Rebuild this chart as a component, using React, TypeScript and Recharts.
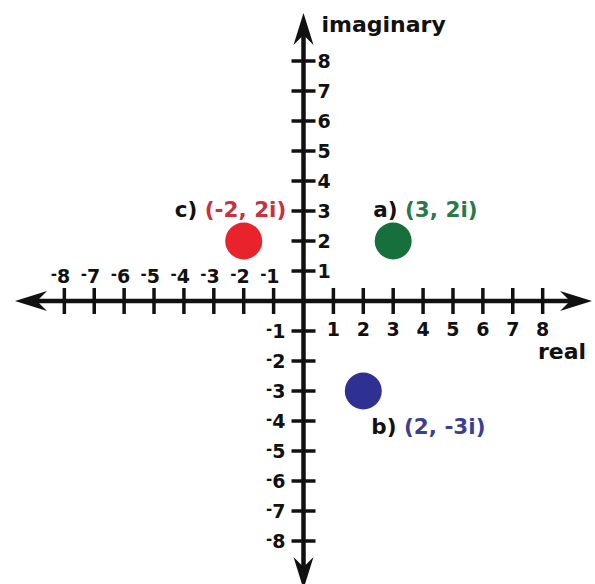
import React from 'react'
import { ScatterChart, XAxis, YAxis, Scatter, ReferenceLine } from 'recharts'

// complex numbers plotted on the argand plane
const realParts = [3, 2, -2]
const imagParts = [2, -3, 2]
const pointTags = ['a)', 'b)', 'c)']

const xTicks = [-8, -7, -6, -5, -4, -3, -2, -1, 1, 2, 3, 4, 5, 6, 7, 8]
const yTicks = [-8, -7, -6, -5, -4, -3, -2, -1, 1, 2, 3, 4, 5, 6, 7, 8]

const FONT = '"DejaVu Sans", Arial, Helvetica, sans-serif'
const INK = '#111'

const dotColor: Record<string, string> = { 'a)': '#17703b', 'b)': '#2e3192', 'c)': '#e8232b' }
const textColor: Record<string, string> = { 'a)': '#277a4b', 'b)': '#3b3f92', 'c)': '#c9313f' }
// label offset from the dot centre
const labelPos: Record<string, [number, number]> = { 'a)': [-20, -24], 'b)': [8, 43], 'c)': [-69, -24] }

const points = realParts.map((re, i) => ({ x: re, y: imagParts[i], tag: pointTags[i] }))
const xTickPts = xTicks.map(v => ({ x: v, y: 0 }))
const yTickPts = yTicks.map(v => ({ x: 0, y: v }))

const fmt = (n: number) => (n < 0 ? `-${Math.abs(n)}` : `${n}`)

// arrowhead with a notched back, tip at (x, y) pointing along (ux, uy)
function arrow(x: number, y: number, ux: number, uy: number) {
  const nx = -uy, ny = ux
  const len = 32, half = 10, notch = 22
  const pts = [
    [x, y],
    [x - ux * len + nx * half, y - uy * len + ny * half],
    [x - ux * notch, y - uy * notch],
    [x - ux * len - nx * half, y - uy * len - ny * half],
  ]
  return <polygon points={pts.map(p => p.join(',')).join(' ')} fill={INK} />
}

function axisShape(title: string, horizontal: boolean) {
  return (props: any) => {
    const { x1, y1, x2, y2 } = props
    const dx = x2 - x1, dy = y2 - y1
    const d = Math.hypot(dx, dy)
    const ux = dx / d, uy = dy / d
    const top = Math.min(y1, y2)
    return (
      <g>
        <line x1={x1 + ux * 20} y1={y1 + uy * 20} x2={x2 - ux * 20} y2={y2 - uy * 20} stroke={INK} strokeWidth={4.5} />
        {arrow(x1, y1, -ux, -uy)}
        {arrow(x2, y2, ux, uy)}
        {horizontal ? (
          <text x={Math.max(x1, x2) - 54} y={y1 + 58} fontFamily={FONT} fontWeight="bold" fontSize={22} fill={INK}>{title}</text>
        ) : (
          <text x={x1 + 18} y={top + 19} fontFamily={FONT} fontWeight="bold" fontSize={22} fill={INK}>{title}</text>
        )}
      </g>
    )
  }
}

const XTickMark = (props: any) => {
  const { cx, cy, payload } = props
  const v = payload.x
  return (
    <g>
      <line x1={cx} x2={cx} y1={cy - 13} y2={cy + 13} stroke={INK} strokeWidth={3.5} />
      {v < 0 ? (
        <text x={cx + 6} y={cy - 18} textAnchor="end" fontFamily={FONT} fontWeight="bold" fontSize={19} fill={INK}>
          <tspan fontSize={15} dy={-4}>-</tspan>
          <tspan dy={4}>{Math.abs(v)}</tspan>
        </text>
      ) : (
        <text x={cx} y={cy + 35} textAnchor="middle" fontFamily={FONT} fontWeight="bold" fontSize={19} fill={INK}>{v}</text>
      )}
    </g>
  )
}

const YTickMark = (props: any) => {
  const { cx, cy, payload } = props
  const v = payload.y
  return (
    <g>
      <line x1={cx - 12} x2={cx + 12} y1={cy} y2={cy} stroke={INK} strokeWidth={3.5} />
      {v < 0 ? (
        <text x={cx - 18} y={cy + 7} textAnchor="end" fontFamily={FONT} fontWeight="bold" fontSize={19} fill={INK}>
          <tspan fontSize={15} dy={-4}>-</tspan>
          <tspan dy={4}>{Math.abs(v)}</tspan>
        </text>
      ) : (
        <text x={cx + 14} y={cy + 7} fontFamily={FONT} fontWeight="bold" fontSize={19} fill={INK}>{v}</text>
      )}
    </g>
  )
}

const ComplexDot = (props: any) => {
  const { cx, cy, payload } = props
  const tag = payload.tag
  const [ox, oy] = labelPos[tag]
  return (
    <g>
      <circle cx={cx} cy={cy} r={18.5} fill={dotColor[tag]} />
      <text x={cx + ox} y={cy + oy} fontFamily={FONT} fontWeight="bold" fontSize={21.5}>
        <tspan fill={INK}>{tag}</tspan>
        <tspan fill={textColor[tag]}>{` (${fmt(payload.x)}, ${fmt(payload.y)}i)`}</tspan>
      </text>
    </g>
  )
}

export default function App() {
  return (
    <div style={{ position: 'absolute', left: 0, top: 0, width: 595, height: 584, overflow: 'hidden', background: '#fff' }}>
      <ScatterChart width={595} height={600} margin={{ top: 13, right: 3, bottom: 11, left: 15 }}>
        <XAxis type="number" dataKey="x" domain={[-9.65, 9.65]} allowDataOverflow hide />
        <YAxis type="number" dataKey="y" domain={[-9.6, 9.6]} allowDataOverflow hide />
        <ReferenceLine y={0} shape={axisShape('real', true)} />
        <ReferenceLine x={0} shape={axisShape('imaginary', false)} />
        <Scatter data={xTickPts} shape={XTickMark} isAnimationActive={false} />
        <Scatter data={yTickPts} shape={YTickMark} isAnimationActive={false} />
        <Scatter data={points} shape={ComplexDot} isAnimationActive={false} />
      </ScatterChart>
    </div>
  )
}
